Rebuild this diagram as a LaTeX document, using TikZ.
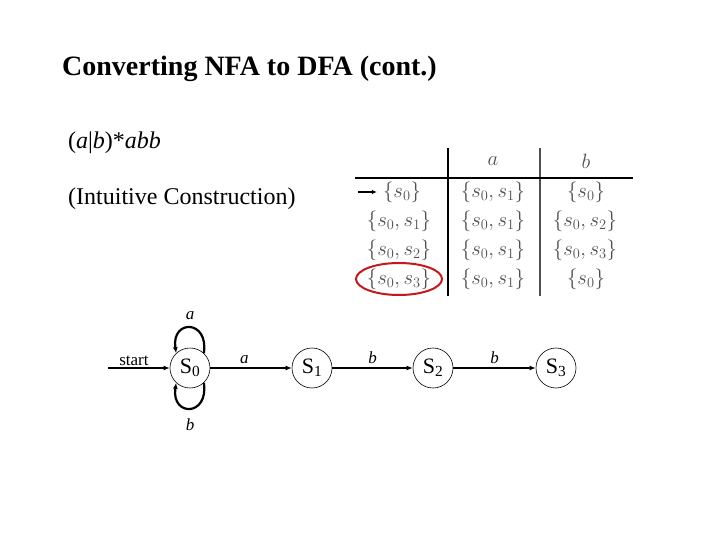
\documentclass[tikz,border=0pt]{standalone}
\usepackage{fontspec}
\setmainfont{Liberation Serif}
\usetikzlibrary{arrows.meta}

\definecolor{cellgray}{RGB}{80,80,80}
\definecolor{markred}{RGB}{195,25,30}

\tikzset{
  state/.style={draw, circle, line width=0.6pt, minimum size=40pt, inner sep=0pt, font=\fontsize{22}{24}\selectfont},
  trans/.style={line width=2.2pt, -{Latex[length=6pt,width=5pt]}},
  edgelbl/.style={font=\fontsize{17}{19}\selectfont\itshape},
  cell/.style={text=cellgray, inner sep=0pt, font=\fontsize{21.5}{24}\selectfont},
}

\begin{document}
\begin{tikzpicture}[x=1pt, y=-1pt]
  \useasboundingbox[fill=white] (0,0) rectangle (720,540);
  % heading and notes
  \node[anchor=west, inner sep=0pt, font=\fontsize{28}{32}\selectfont\bfseries] (title) at (62,69) {Converting NFA to DFA (cont.)};
  \node[anchor=west, inner sep=0pt, font=\fontsize{24}{28}\selectfont] (regex) at (68,143) {(\textit{a}|\textit{b})*\textit{abb}};
  \node[anchor=west, inner sep=0pt, font=\fontsize{24}{28}\selectfont] (intuit) at (68,199) {(Intuitive Construction)};
  % transition table
  \draw[line width=2.6pt] (448,148) -- (448,296);
  \draw[line width=1.6pt, cellgray] (540,148) -- (540,296);
  \draw[line width=2.6pt] (355,178) -- (633,178);
  \node[cell] (ha) at (493,161) {$a$};
  \node[cell] (hb) at (586,161) {$b$};
  \node[cell] (r1c1) at (402,192) {$\{s_0\}$};
  \node[cell] (r1c2) at (493,192) {$\{s_0,s_1\}$};
  \node[cell] (r1c3) at (586,192) {$\{s_0\}$};
  \node[cell] (r2c1) at (399,221) {$\{s_0,s_1\}$};
  \node[cell] (r2c2) at (493,221) {$\{s_0,s_1\}$};
  \node[cell] (r2c3) at (585,221) {$\{s_0,s_2\}$};
  \node[cell] (r3c1) at (399,250) {$\{s_0,s_2\}$};
  \node[cell] (r3c2) at (493,250) {$\{s_0,s_1\}$};
  \node[cell] (r3c3) at (585,250) {$\{s_0,s_3\}$};
  \node[cell] (r4c1) at (399,279) {$\{s_0,s_3\}$};
  \node[cell] (r4c2) at (493,279) {$\{s_0,s_1\}$};
  \node[cell] (r4c3) at (586,279) {$\{s_0\}$};
  \coordinate (entry) at (358,192);
  \draw[line width=1.4pt, -{Latex[length=5pt,width=4.5pt]}] (entry) -- ([xshift=-6pt]r1c1.west);
  \draw[markred, line width=2pt] (r4c1) ellipse [x radius=43, y radius=16];
  % automaton
  \node[state] (s0) at (190,368) {S\textsubscript{0}};
  \node[state] (s1) at (312,368) {S\textsubscript{1}};
  \node[state] (s2) at (433,368) {S\textsubscript{2}};
  \node[state] (s3) at (556,368) {S\textsubscript{3}};
  \coordinate (start) at (108,368);
  \draw[trans] (start) -- node[pos=0.42, above, inner sep=1pt, font=\fontsize{17}{19}\selectfont] (startlbl) {start} (s0);
  \draw[trans] (s0) -- node[pos=0.42, above, edgelbl] (lbl01) {a} (s1);
  \draw[trans] (s1) -- node[above, edgelbl] (lbl12) {b} (s2);
  \draw[trans] (s2) -- node[above, edgelbl] (lbl23) {b} (s3);
  \draw[trans] (s0.47) .. controls +(5,-34) and +(-5,-34) .. node[above=4pt, edgelbl] (loopa) {a} (s0.133);
  \draw[trans] (s0.-47) .. controls +(5,34) and +(-5,34) .. node[below=6pt, edgelbl] (loopb) {b} (s0.-133);
\end{tikzpicture}
\end{document}
